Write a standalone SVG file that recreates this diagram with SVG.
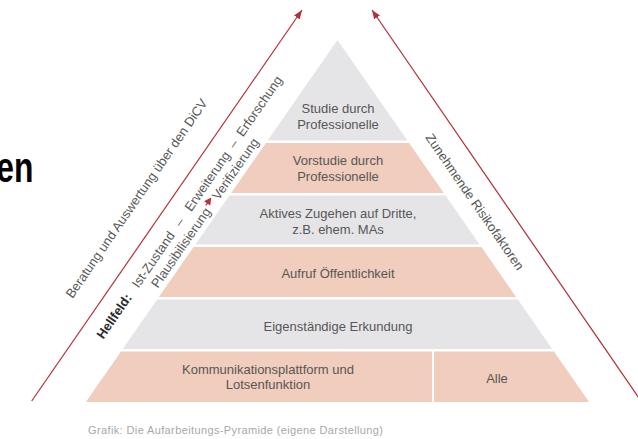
<svg xmlns="http://www.w3.org/2000/svg" width="638" height="439" viewBox="0 0 638 439">
<defs>
<style>
.t{font-family:"Liberation Sans",Arial,sans-serif;font-size:13px;fill:#575757}
.c{text-anchor:middle}
.b{font-weight:bold;fill:#2a2a2a}
.g{fill:#e5e5e7}
.s{fill:#f0cdbc}
.red{stroke:#b0313a;stroke-width:1.2;fill:none}
.cap{font-family:"Liberation Sans",Arial,sans-serif;font-size:11px;fill:#a8a8a8}
</style>
<marker id="ah" markerUnits="userSpaceOnUse" markerWidth="9" markerHeight="7" refX="9" refY="3.5" orient="auto">
<path d="M0,0 L9,3.5 L0,7 z" fill="#b0313a"/>
</marker>
</defs>
<rect width="638" height="439" fill="#fff"/>
<text transform="translate(33.5,182) scale(0.74,1)" text-anchor="end" font-family="Liberation Sans,Arial,sans-serif" font-weight="bold" font-size="43" fill="#000">en</text>

<g id="connectors">
<line class="red" x1="31.7" y1="401" x2="302" y2="10" marker-end="url(#ah)"/>
<line class="red" x1="641" y1="401" x2="372" y2="10" marker-end="url(#ah)"/>
</g>

<g id="layer1">
<polygon class="g" points="337.5,40 407.35,140.5 267.65,140.5"/>
<text class="t c" x="338" y="112.5">Studie durch</text>
<text class="t c" x="338" y="128.5">Professionelle</text>
</g>
<g id="layer2">
<polygon class="s" points="265.9,143 409.1,143 443.8,193 231.2,193"/>
<text class="t c" x="338" y="164.5">Vorstudie durch</text>
<text class="t c" x="338" y="180.5">Professionelle</text>
</g>
<g id="layer3">
<polygon class="g" points="229.4,195.5 445.6,195.5 479.6,244.5 195.4,244.5"/>
<text class="t c" x="338" y="217.5">Aktives Zugehen auf Dritte,</text>
<text class="t c" x="338" y="233.5">z.B. ehem. MAs</text>
</g>
<g id="layer4">
<polygon class="s" points="193.6,247 481.4,247 516.1,297 158.9,297"/>
<text class="t c" x="338" y="277.5">Aufruf Öffentlichkeit</text>
</g>
<g id="layer5">
<polygon class="g" points="157.15,299.5 517.85,299.5 552.25,349 122.75,349"/>
<text class="t c" x="338" y="330.5">Eigenständige Erkundung</text>
</g>
<g id="layer6">
<polygon class="s" points="121,351.5 432,351.5 432,402 85.9,402"/>
<polygon class="s" points="434,351.5 554,351.5 589.1,402 434,402"/>
<text class="t c" x="268" y="374">Kommunikationsplattform und</text>
<text class="t c" x="268" y="389">Lotsenfunktion</text>
<text class="t c" x="497" y="382.5">Alle</text>
</g>

<g id="left-labels" transform="translate(31.7,401) rotate(-55.35)">
<text class="t" x="107" y="-24.5">Beratung und Auswertung über den DiCV</text>
<text class="t b" x="91" y="24">Hellfeld:</text>
<text class="t" x="153" y="24">Ist-Zustand</text>
<text class="t" x="227.5" y="24">–</text>
<text class="t" x="246" y="24">Erweiterung</text>
<text class="t" x="322.5" y="24">–</text>
<text class="t" x="337" y="24">Erforschung</text>
<text class="t" x="164" y="40">Plausibilisierung</text>
<path d="M260,32 L264,32 M263,29.3 L268,32 L263,34.7 z" stroke="#c0303a" stroke-width="1.3" fill="#c0303a"/>
<text class="t" x="271" y="40">Verifizierung</text>
</g>

<g id="right-label" transform="translate(372,10) rotate(55.35)">
<text class="t" x="135" y="29">Zunehmende Risikofaktoren</text>
</g>

<text class="cap" x="88" y="434" textLength="295" lengthAdjust="spacing">Grafik: Die Aufarbeitungs-Pyramide (eigene Darstellung)</text>
</svg>
